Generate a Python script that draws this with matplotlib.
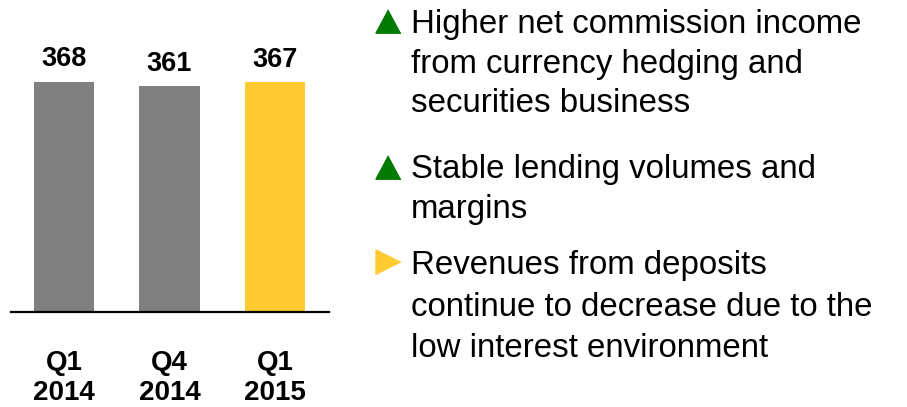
import matplotlib
matplotlib.use("Agg")
import matplotlib.pyplot as plt
from matplotlib.lines import Line2D

# ---- data ----
categories = ["Q1\n2014", "Q4\n2014", "Q1\n2015"]
values = [368, 361, 367]
bar_colors = ["#808080", "#808080", "#FFCA32"]

bullet_lines = [
    ["Higher net commission income", "from currency hedging and", "securities business"],
    ["Stable lending volumes and", "margins"],
    ["Revenues from deposits", "continue to decrease due to the", "low interest environment"],
]
bullet_markers = ["^", "^", ">"]
bullet_colors = ["#007A00", "#007A00", "#FFCA32"]

W, H = 907, 407
fig = plt.figure(figsize=(W / 100, H / 100), dpi=100)
plt.rcParams["font.family"] = ["Liberation Sans", "DejaVu Sans"]

def fx(px):
    return px / W

def fy(py):
    return 1 - py / H

# axes: left 11px, right 329px, bottom at 312px, height 300px
ax = fig.add_axes([fx(11), fy(312), (329 - 11) / W, 300 / H])
x = list(range(len(values)))
ax.bar(x, values, width=0.57, color=bar_colors, zorder=2)
ax.set_xlim(-0.5, 2.51)
ax.set_ylim(0, 368 * 300 / 230.3)
for s in ["top", "left", "right"]:
    ax.spines[s].set_visible(False)
ax.spines["bottom"].set_linewidth(1.6)
ax.spines["bottom"].set_color("black")
ax.set_yticks([])
ax.set_xticks(x)
ax.set_xticklabels(categories, fontsize=20, fontweight="bold", linespacing=1.25)
ax.tick_params(axis="x", length=0, pad=27)

for xi, v in zip(x, values):
    ax.annotate(str(v), (xi, v), xytext=(0, 11), textcoords="offset points",
                ha="center", va="baseline", fontsize=19.5, fontweight="bold")

# bullets
bullet_centers = [21, 167.5, 262]
first_baselines = [33.3, 178, 274]
spacing = [39.2, 40, 41.6]
for lines, mk, col, cy, b0, sp in zip(bullet_lines, bullet_markers, bullet_colors,
                                      bullet_centers, first_baselines, spacing):
    if mk == "^":
        m = [(0, 1), (-1.07, -1), (1.07, -1)]
    else:
        m = [(1, 0), (-1, 1), (-1, -1)]
    fig.add_artist(Line2D([fx(387.5)], [fy(cy)], transform=fig.transFigure,
                          marker=m, markersize=25 * 0.72, color=col, linestyle="none"))
    for i, ln in enumerate(lines):
        fig.text(fx(411), fy(b0 + i * sp), ln, fontsize=23.8, va="baseline", ha="left")

fig.savefig("out.png", dpi=100)
